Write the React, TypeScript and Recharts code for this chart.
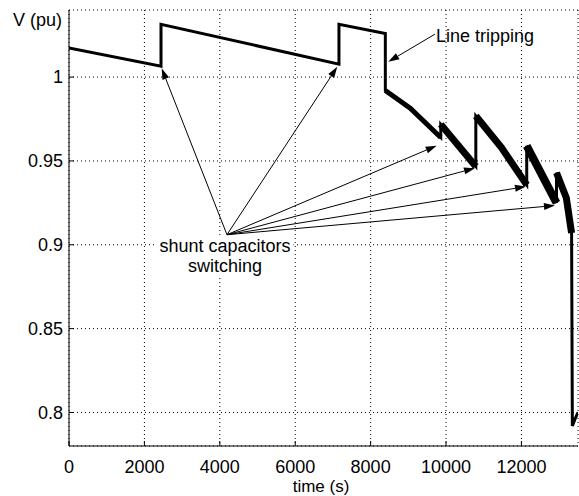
import { LineChart, Line, XAxis, YAxis, CartesianGrid, ReferenceLine } from "recharts";

const FONT = '"Liberation Sans", Arial, sans-serif';

// whole voltage trace, thin line
const TIME = [0, 2440, 2440, 7160, 7160, 8390, 8390, 9050, 9860, 9860, 10790, 10790, 11470, 12140, 12140, 12930, 12930, 13190, 13330, 13350, 13420, 13500];
const VOLT = [1.0174, 1.0065, 1.0315, 1.0077, 1.0315, 1.026, 0.992, 0.9815, 0.964, 0.9718, 0.9467, 0.9768, 0.958, 0.9357, 0.959, 0.925, 0.943, 0.928, 0.907, 0.792, 0.796, 0.8];

// oscillating (thick) ramps after the line tripping
const RAMP_T = [
  [8390, 9050, 9860],
  [9860, 10790],
  [10790, 11470, 12140],
  [12140, 12930],
  [12930, 13190, 13330],
];
const RAMP_V = [
  [0.992, 0.9815, 0.964],
  [0.9718, 0.9467],
  [0.9768, 0.958, 0.9357],
  [0.959, 0.925],
  [0.943, 0.928, 0.907],
];
const RAMP_W = [5, 7, 7, 8, 7];

const X_TICKS = [0, 2000, 4000, 6000, 8000, 10000, 12000];
const Y_TICKS = [0.8, 0.85, 0.9, 0.95, 1];

// annotation arrows
const CAP_FROM = { t: 4190, v: 0.906 };
const CAP_TO_T = [2458, 7115, 9751, 10767, 12120, 12889];
const CAP_TO_V = [1.0052, 1.0061, 0.9591, 0.9457, 0.9347, 0.9234];
const TRIP_ARROW = [9706, 1.0256, 8468, 1.0091];

const mainData = TIME.map((t, i) => ({ t, v: VOLT[i] }));
const ramps = RAMP_T.map((ts, k) => ts.map((t, i) => ({ t, v: RAMP_V[k][i] })));

function Arrow(p: any) {
  const { x1, y1, x2, y2 } = p;
  const a = Math.atan2(y2 - y1, x2 - x1);
  const L = 11;
  const W = 3.5;
  const bx = x2 - L * Math.cos(a);
  const by = y2 - L * Math.sin(a);
  const pts = `${x2},${y2} ${bx + W * Math.sin(a)},${by - W * Math.cos(a)} ${bx - W * Math.sin(a)},${by + W * Math.cos(a)}`;
  return (
    <g>
      <line x1={x1} y1={y1} x2={bx} y2={by} stroke="#000" strokeWidth={1} />
      <polygon points={pts} fill="#000" />
    </g>
  );
}

const tickStyle = { fill: "#000", fontSize: 18, fontFamily: FONT };

export default function App() {
  return (
    <div style={{ position: "absolute", left: 0, top: 0, width: 579, height: 496, background: "#fff", fontFamily: FONT }}>
      <LineChart width={579} height={496} margin={{ top: 10, right: 1, bottom: 0, left: 0 }}>
        <CartesianGrid stroke="#000" strokeDasharray="1 3" />
        <XAxis
          dataKey="t"
          type="number"
          domain={[0, 13500]}
          ticks={X_TICKS}
          height={50}
          tickSize={-5}
          tickMargin={19}
          tick={tickStyle}
          stroke="#000"
          allowDataOverflow
        />
        <XAxis
          xAxisId="top"
          orientation="top"
          dataKey="t"
          type="number"
          domain={[0, 13500]}
          ticks={X_TICKS}
          height={0}
          tickSize={-5}
          tickFormatter={() => ""}
          stroke="#000"
          allowDataOverflow
        />
        <YAxis
          type="number"
          domain={[0.78, 1.04]}
          ticks={Y_TICKS}
          width={69}
          tickSize={-5}
          tickMargin={11}
          tick={tickStyle}
          tickFormatter={(v) => String(v)}
          stroke="#000"
          allowDataOverflow
        />
        <YAxis
          yAxisId="right"
          orientation="right"
          type="number"
          domain={[0.78, 1.04]}
          ticks={Y_TICKS}
          width={0}
          tickSize={-5}
          tickFormatter={() => ""}
          stroke="#000"
          allowDataOverflow
        />
        <Line data={mainData} dataKey="v" stroke="#000" strokeWidth={3} dot={false} isAnimationActive={false} />
        {ramps.map((d, k) => (
          <Line
            key={k}
            data={d}
            dataKey="v"
            stroke="#000"
            strokeWidth={RAMP_W[k]}
            dot={false}
            isAnimationActive={false}
          />
        ))}
        {CAP_TO_T.map((t, i) => (
          <ReferenceLine
            key={i}
            segment={[{ x: CAP_FROM.t, y: CAP_FROM.v }, { x: t, y: CAP_TO_V[i] }]}
            shape={Arrow}
          />
        ))}
        <ReferenceLine
          segment={[{ x: TRIP_ARROW[0], y: TRIP_ARROW[1] }, { x: TRIP_ARROW[2], y: TRIP_ARROW[3] }]}
          shape={Arrow}
        />
      </LineChart>
      <div style={{ position: "absolute", left: 0, top: 9.75, width: 62, textAlign: "right", fontSize: 18, lineHeight: "20px" }}>
        V (pu)
      </div>
      <div style={{ position: "absolute", left: 221, top: 480.6, width: 200, textAlign: "center", fontSize: 17, lineHeight: "12px" }}>
        time (s)
      </div>
      <div style={{ position: "absolute", left: 436, top: 25.5, fontSize: 18, lineHeight: "20px", whiteSpace: "nowrap" }}>
        Line tripping
      </div>
      <div
        style={{
          position: "absolute",
          left: 225,
          top: 235.75,
          transform: "translateX(-50%)",
          background: "#fff",
          padding: "0 3px",
          textAlign: "center",
          fontSize: 18,
          lineHeight: "20px",
          whiteSpace: "nowrap",
        }}
      >
        shunt capacitors
        <br />
        switching
      </div>
    </div>
  );
}
